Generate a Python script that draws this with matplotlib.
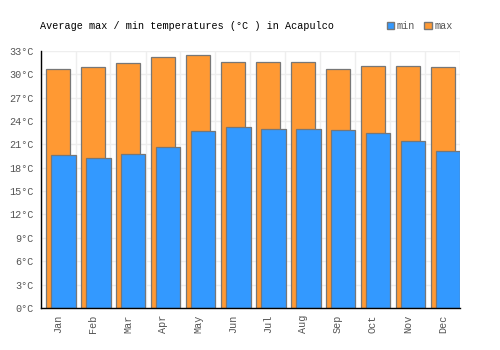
import numpy as np
import matplotlib
matplotlib.use('Agg')
import matplotlib.pyplot as plt
from matplotlib.patches import Patch

months = ['Jan', 'Feb', 'Mar', 'Apr', 'May', 'Jun', 'Jul', 'Aug', 'Sep', 'Oct', 'Nov', 'Dec']
t_max = [30.6, 30.9, 31.4, 32.2, 32.5, 31.6, 31.5, 31.6, 30.7, 31.0, 31.1, 30.9]
t_min = [19.6, 19.3, 19.8, 20.6, 22.7, 23.2, 23.0, 22.9, 22.8, 22.5, 21.4, 20.1]
yticks = list(range(0, 34, 3))

orange = '#ff9933'
blue = '#3399ff'
edge = '#777777'
mono = 'Liberation Mono'
fs = 7.3

fig = plt.figure(figsize=(5, 3.5), dpi=100)
ax = fig.add_axes([0.081, 0.12, 0.84, 0.735])

x = np.arange(len(months))
ax.bar(x, t_max, width=0.67, color=orange, edgecolor=edge, linewidth=0.9, zorder=2)
ax.bar(x + 0.15, t_min, width=0.7, color=blue, edgecolor=edge, linewidth=0.9, zorder=3)

ax.set_xlim(-0.5, 11.5)
ax.set_ylim(0, 33)
ax.set_yticks(yticks)
ax.set_yticklabels([f'{v}°C' for v in yticks], family=mono, fontsize=fs, color='#555555')
ax.set_xticks(x)
ax.set_xticklabels(months, rotation=90, family=mono, fontsize=fs, color='#555555')
ax.tick_params(length=0, pad=5)

for b in np.arange(-0.5, 12, 1):
    ax.axvline(b, color='#eeeeee', linewidth=1, zorder=0)
for t in yticks:
    ax.axhline(t, color='#eeeeee', linewidth=1, zorder=0)

for s in ['top', 'right']:
    ax.spines[s].set_visible(False)
for s in ['left', 'bottom']:
    ax.spines[s].set_color('black')
    ax.spines[s].set_linewidth(1)
ax.spines['left'].set_zorder(5)
ax.spines['bottom'].set_zorder(5)

fig.text(0.08, 0.925, 'Average max / min temperatures (°C ) in Acapulco',
         family=mono, fontsize=fs, color='black', va='center')

handles = [Patch(facecolor=blue, edgecolor=edge, label='min'),
           Patch(facecolor=orange, edgecolor=edge, label='max')]
leg = fig.legend(handles=handles, loc='center right', bbox_to_anchor=(0.916, 0.925),
                 ncol=2, frameon=False, handlelength=0.75, handleheight=0.75,
                 handletextpad=0.25, columnspacing=0.9, borderpad=0,
                 prop={'family': mono, 'size': fs})
for t in leg.get_texts():
    t.set_color('#555555')

fig.savefig('out.png', dpi=100)
